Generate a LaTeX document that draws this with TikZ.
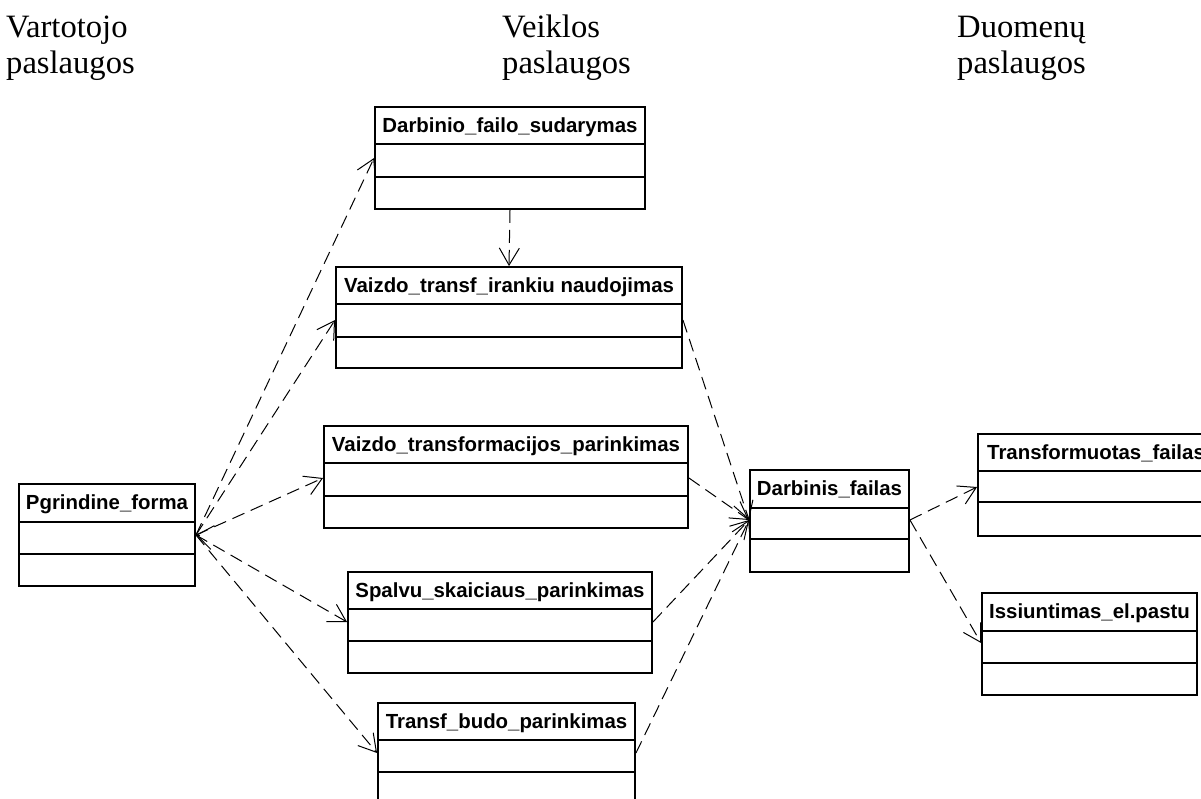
\documentclass[tikz,border=0pt]{standalone}
\usepackage{fontspec}
\setmainfont{Liberation Serif}
\newfontfamily\classfont{Liberation Sans}
\usetikzlibrary{arrows.meta,fit,calc}

\tikzset{
  boxline/.style={draw=black, line width=1.9pt},
  classbox/.style={boxline, rectangle, inner sep=0pt},
  classtitle/.style={font=\classfont\bfseries\fontsize{20.4}{24}\selectfont, anchor=base, inner sep=0pt},
  heading/.style={font=\fontsize{32.6}{36}\selectfont, anchor=base west, align=left, inner sep=0pt},
  dep/.style={line width=1pt, dash pattern=on 13pt off 7pt,
    -{Straight Barb[length=17pt,width=20pt,line width=1pt]}},
  barbonly/.style={line width=1pt, solid,
    -{Straight Barb[length=16pt,width=24pt,line width=1pt]}},
}

% UML class box: name, left, top, first divider, second divider, right, bottom, title
\newcommand{\umlclass}[8]{%
  \node[classbox, fit={(#2,#3) (#6,#7)}] (#1) {};
  \draw[boxline] (#2,#4) -- (#6,#4);
  \draw[boxline] (#2,#5) -- (#6,#5);
  \node[classtitle] at ({(#2+#6)/2},{#3+25}) {#8};
}

\begin{document}
\begin{tikzpicture}[x=1pt, y=-1pt]
\useasboundingbox (0,0) rectangle (1201,798);
\clip (0,0) rectangle (1201,798);

% column headings (anchored at the baseline of their second line)
\node[heading] (h1) at (6,73) {Vartotojo\\paslaugos};
\node[heading] (h2) at (502,73) {Veiklos\\paslaugos};
\node[heading] (h3) at (957,73) {Duomenų\\paslaugos};

% classes
\umlclass{pg}{19}{484}{522}{554}{195}{586}{Pgrindine\_forma}
\umlclass{dfs}{375}{107}{144}{177}{645}{209}{Darbinio\_failo\_sudarymas}
\umlclass{vti}{336}{267}{304}{337}{682}{368}{Vaizdo\_transf\_irankiu naudojimas}
\umlclass{vtp}{324}{426}{463}{496}{688}{528}{Vaizdo\_transformacijos\_parinkimas}
\umlclass{spa}{348}{572}{609}{641}{652}{673}{Spalvu\_skaiciaus\_parinkimas}
\umlclass{tbp}{378}{703}{740}{772}{635}{804}{Transf\_budo\_parinkimas}
\umlclass{df}{750}{470}{508}{539}{909}{572}{Darbinis\_failas}
\umlclass{tf}{978}{434}{471}{502}{1214}{536}{Transformuotas\_failas}
\umlclass{ie}{982}{593}{631}{663}{1197}{695}{Issiuntimas\_el.pastu}

% dependencies from the main form
\draw[dep] (pg.east |- 0,535) -- (dfs.west |- 0,158);
\draw[dep] (pg.east |- 0,535) -- (vti.west |- 0,320);
\draw[dep] (pg.east |- 0,535) -- (vtp.west |- 0,478);
\draw[dep] (pg.east |- 0,535) -- (spa.west |- 0,622);
\draw[dep] (pg.east |- 0,535) -- (tbp.west |- 0,753);
\coordinate (pgin) at ($(pg.east |- 0,535)+(4,0.6)$);
\draw[barbonly] (pgin) -- (pg.east |- 0,535);

% dependencies between business services
\draw[dep] (dfs.south) -- (vti.north);
\draw[dep] (vti.east |- 0,320) -- (df.west |- 0,520);
\draw[dep] (vtp.east |- 0,478) -- (df.west |- 0,520);
\draw[dep] (spa.east |- 0,622) -- (df.west |- 0,520);
\draw[dep] (tbp.east |- 0,753) -- (df.west |- 0,520);

% dependencies to data services
\draw[dep] (df.east |- 0,520) -- (tf.west |- 0,487);
\draw[dep] (df.east |- 0,520) -- (ie.west |- 0,643);
\end{tikzpicture}
\end{document}
